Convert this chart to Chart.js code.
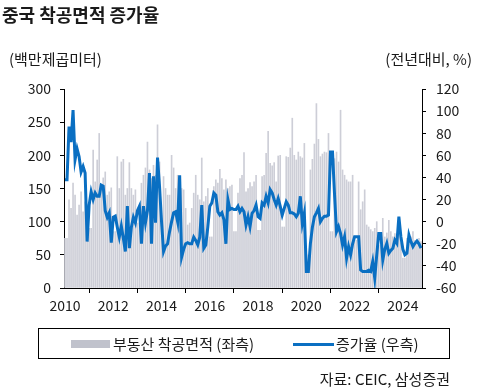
<!DOCTYPE html>
<html>
<head>
<meta charset="utf-8">
<script src="https://cdn.jsdelivr.net/npm/chart.js@4.4.1/dist/chart.umd.min.js"></script>
<style>
  body { margin: 0; background: #fff; }
  #wrap { position: relative; width: 479px; height: 389px; font-family: "Noto Sans CJK KR", "Noto Sans", sans-serif; color: #1a1a1a; }
  #myChart { position: absolute; left: 0; top: 0; }
  .txt { position: absolute; white-space: nowrap; line-height: 1; }
  #title { left: 2px; top: 5px; font-size: 18px; font-weight: bold; }
  #unitL { left: 9px; top: 51px; font-size: 15px; }
  #unitR { right: 7px; top: 51px; font-size: 15px; }
  #legend { position: absolute; left: 38px; top: 328px; width: 410px; height: 29px; border: 1px solid #000; }
  .sw { position: absolute; }
  #source { right: 29px; top: 371px; font-size: 15px; }
</style>
</head>
<body>
<div id="wrap">
  <canvas id="myChart" width="479" height="389"></canvas>
  <div class="txt" id="title">중국 착공면적 증가율</div>
  <div class="txt" id="unitL">(백만제곱미터)</div>
  <div class="txt" id="unitR">(전년대비, %)</div>
  <div id="legend">
    <div class="sw" style="left:32px;top:11px;width:39px;height:8px;background:#c0c2cc"></div>
    <div class="txt" style="left:74px;top:7px;font-size:15px">부동산 착공면적 (좌측)</div>
    <div class="sw" style="left:254px;top:14px;width:41px;height:3px;background:#0a6fc2"></div>
    <div class="txt" style="left:297px;top:7px;font-size:15px">증가율 (우측)</div>
  </div>
  <div class="txt" id="source">자료: CEIC, 삼성증권</div>
</div>
<script>
// months 2010-01 .. 2024-10
const labels = [];
for (let y = 2010; y <= 2024; y++) {
    for (let m = 1; m <= 12; m++) {
        if (y === 2024 && m > 10) break;
        labels.push(y + '-' + String(m).padStart(2, '0'));
    }
}

// 부동산 착공면적 (백만제곱미터), left axis
const startsArea = [
    75, 75, 133, 120, 158, 140, 110, 125, 145, 115, 130, 110,     // 2010
    90, 90, 208, 160, 193, 233, 150, 166, 175, 140, 145, 151,     // 2011
    85, 85, 198, 150, 190, 194, 140, 150, 189, 150, 140, 148,     // 2012
    98, 98, 158, 170, 181, 220, 178, 165, 185, 170, 246, 190,     // 2013
    100, 168, 150, 140, 140, 200, 181, 150, 170, 140, 150, 148,   // 2014
    120, 95, 98, 120, 143, 170, 140, 133, 196, 130, 138, 150,     // 2015
    77, 77, 153, 163, 158, 179, 165, 148, 163, 150, 153, 155,     // 2016
    85, 85, 143, 165, 170, 204, 145, 150, 159, 153, 160, 170,     // 2017
    87, 87, 168, 170, 203, 236, 188, 184, 189, 160, 199, 200,     // 2018
    92, 92, 198, 197, 211, 256, 200, 193, 205, 198, 196, 218,     // 2019
    50, 50, 178, 194, 217, 278, 224, 198, 202, 205, 204, 233,     // 2020
    85, 85, 195, 205, 190, 268, 178, 170, 163, 160, 160, 170,     // 2021
    72, 72, 160, 118, 130, 148, 95, 92, 88, 85, 90, 100,          // 2022
    64, 64, 105, 77, 83, 102, 85, 77, 82, 78, 102, 68,            // 2023
    45, 45, 75, 80, 77, 85, 72, 70, 75, 70                        // 2024
];

// 증가율 (전년대비, %), right axis
const growthYoY = [
    38, 38, 86, 72, 101, 56, 66, 59, 45, 50, 44, -18,             // 2010
    15, 27, 20, 26, 23, 23, 33, 32, 10, 4, 8, -19,                // 2011
    4, 5, -5, -14, -4, -15, -27, 14, -24, -5, 4, -1,              // 2012
    10, 14, -20, 14, -1, 10, 44, -20, 41, -1, 58, 32,             // 2013
    0, -27, -22, -20, -9, 0, 8, 9, 0, 42, -32, -25,               // 2014
    -20, -19, -20, -20, -14, -17, -21, -14, 15, -24, -21, -5,     // 2015
    14, 17, 26, 24, 9, 6, 8, 2, -20, 20, 11, 12,                  // 2016
    11, 11, 14, 9, 12, 9, -3, 4.5, -4.5, 7.6, 10, 15,             // 2017
    4.5, 3, 17, 15, 23, 17, 29, 26, 20, 15, 21, 14,               // 2018
    6, 12, 18, 15, 8, 8, 7, 4.5, 7.6, 23, -1.5, 7.6,              // 2019
    -45, -45, -20, -5, 4.5, 8, 12, 0, 3, 5, 5, 6,                 // 2020
    63, 63, 25, -9, -4.5, -10.6, -21, -13.6, -33, -22.6, -30, -20, // 2021
    -13.6, -13.6, -13.6, -43.7, -45, -45, -45, -44, -45, -36, -51, -30, // 2022
    -10.6, -10.6, -34.7, -25, -19.6, -28.6, -26, -24, -16.6, -19.6, 4.5, -13.6, // 2023
    -25, -30, -28.6, -12, -18, -22.6, -19.6, -17.5, -20, -24      // 2024
];

const leftTicks = [0, 50, 100, 150, 200, 250, 300];
const rightTicks = [-60, -40, -20, 0, 20, 40, 60, 80, 100, 120];

const tickFont = { family: '"Noto Sans CJK KR", "Noto Sans", sans-serif', size: 14 };

const ctx = document.getElementById('myChart').getContext('2d');

const myChart = new Chart(ctx, {
    type: 'bar',
    data: {
        labels: labels,
        datasets: [{
            type: 'line',
            label: '증가율 (우측)',
            data: growthYoY,
            yAxisID: 'yR',
            borderColor: '#0a6fc2',
            borderWidth: 3,
            pointRadius: 0,
            tension: 0,
            order: 0
        }, {
            type: 'bar',
            label: '부동산 착공면적 (좌측)',
            data: startsArea,
            yAxisID: 'yL',
            backgroundColor: '#cdced7',
            barThickness: 1,
            order: 1
        }]
    },
    options: {
        responsive: false,
        animation: false,
        layout: {
            padding: { top: 89, bottom: 0, left: 0, right: 0 }
        },
        plugins: {
            legend: { display: false },
            tooltip: { enabled: false }
        },
        scales: {
            x: {
                border: { color: '#000', width: 1 },
                grid: { drawOnChartArea: false, tickLength: 5, tickColor: '#000' },
                ticks: {
                    autoSkip: false,
                    maxRotation: 0,
                    padding: 4,
                    color: '#1a1a1a',
                    font: tickFont,
                    callback: (val, idx) => idx % 24 === 0 ? labels[idx].slice(0, 4) : null
                },
                afterFit: (scale) => { scale.height = 101; }
            },
            yL: {
                position: 'left',
                min: 0,
                max: 300,
                border: { color: '#000', width: 1 },
                grid: { drawOnChartArea: false, tickLength: 4, tickColor: '#000' },
                afterBuildTicks: (scale) => { scale.ticks = leftTicks.map(v => ({ value: v })); },
                ticks: { padding: 9, color: '#1a1a1a', font: tickFont },
                afterFit: (scale) => { scale.width = 64; }
            },
            yR: {
                position: 'right',
                min: -60,
                max: 120,
                border: { color: '#000', width: 1 },
                grid: { drawOnChartArea: false, tickLength: 4, tickColor: '#000' },
                afterBuildTicks: (scale) => { scale.ticks = rightTicks.map(v => ({ value: v })); },
                ticks: { padding: 10, color: '#1a1a1a', font: tickFont },
                afterFit: (scale) => { scale.width = 57; }
            }
        }
    }
});
</script>
</body>
</html>
